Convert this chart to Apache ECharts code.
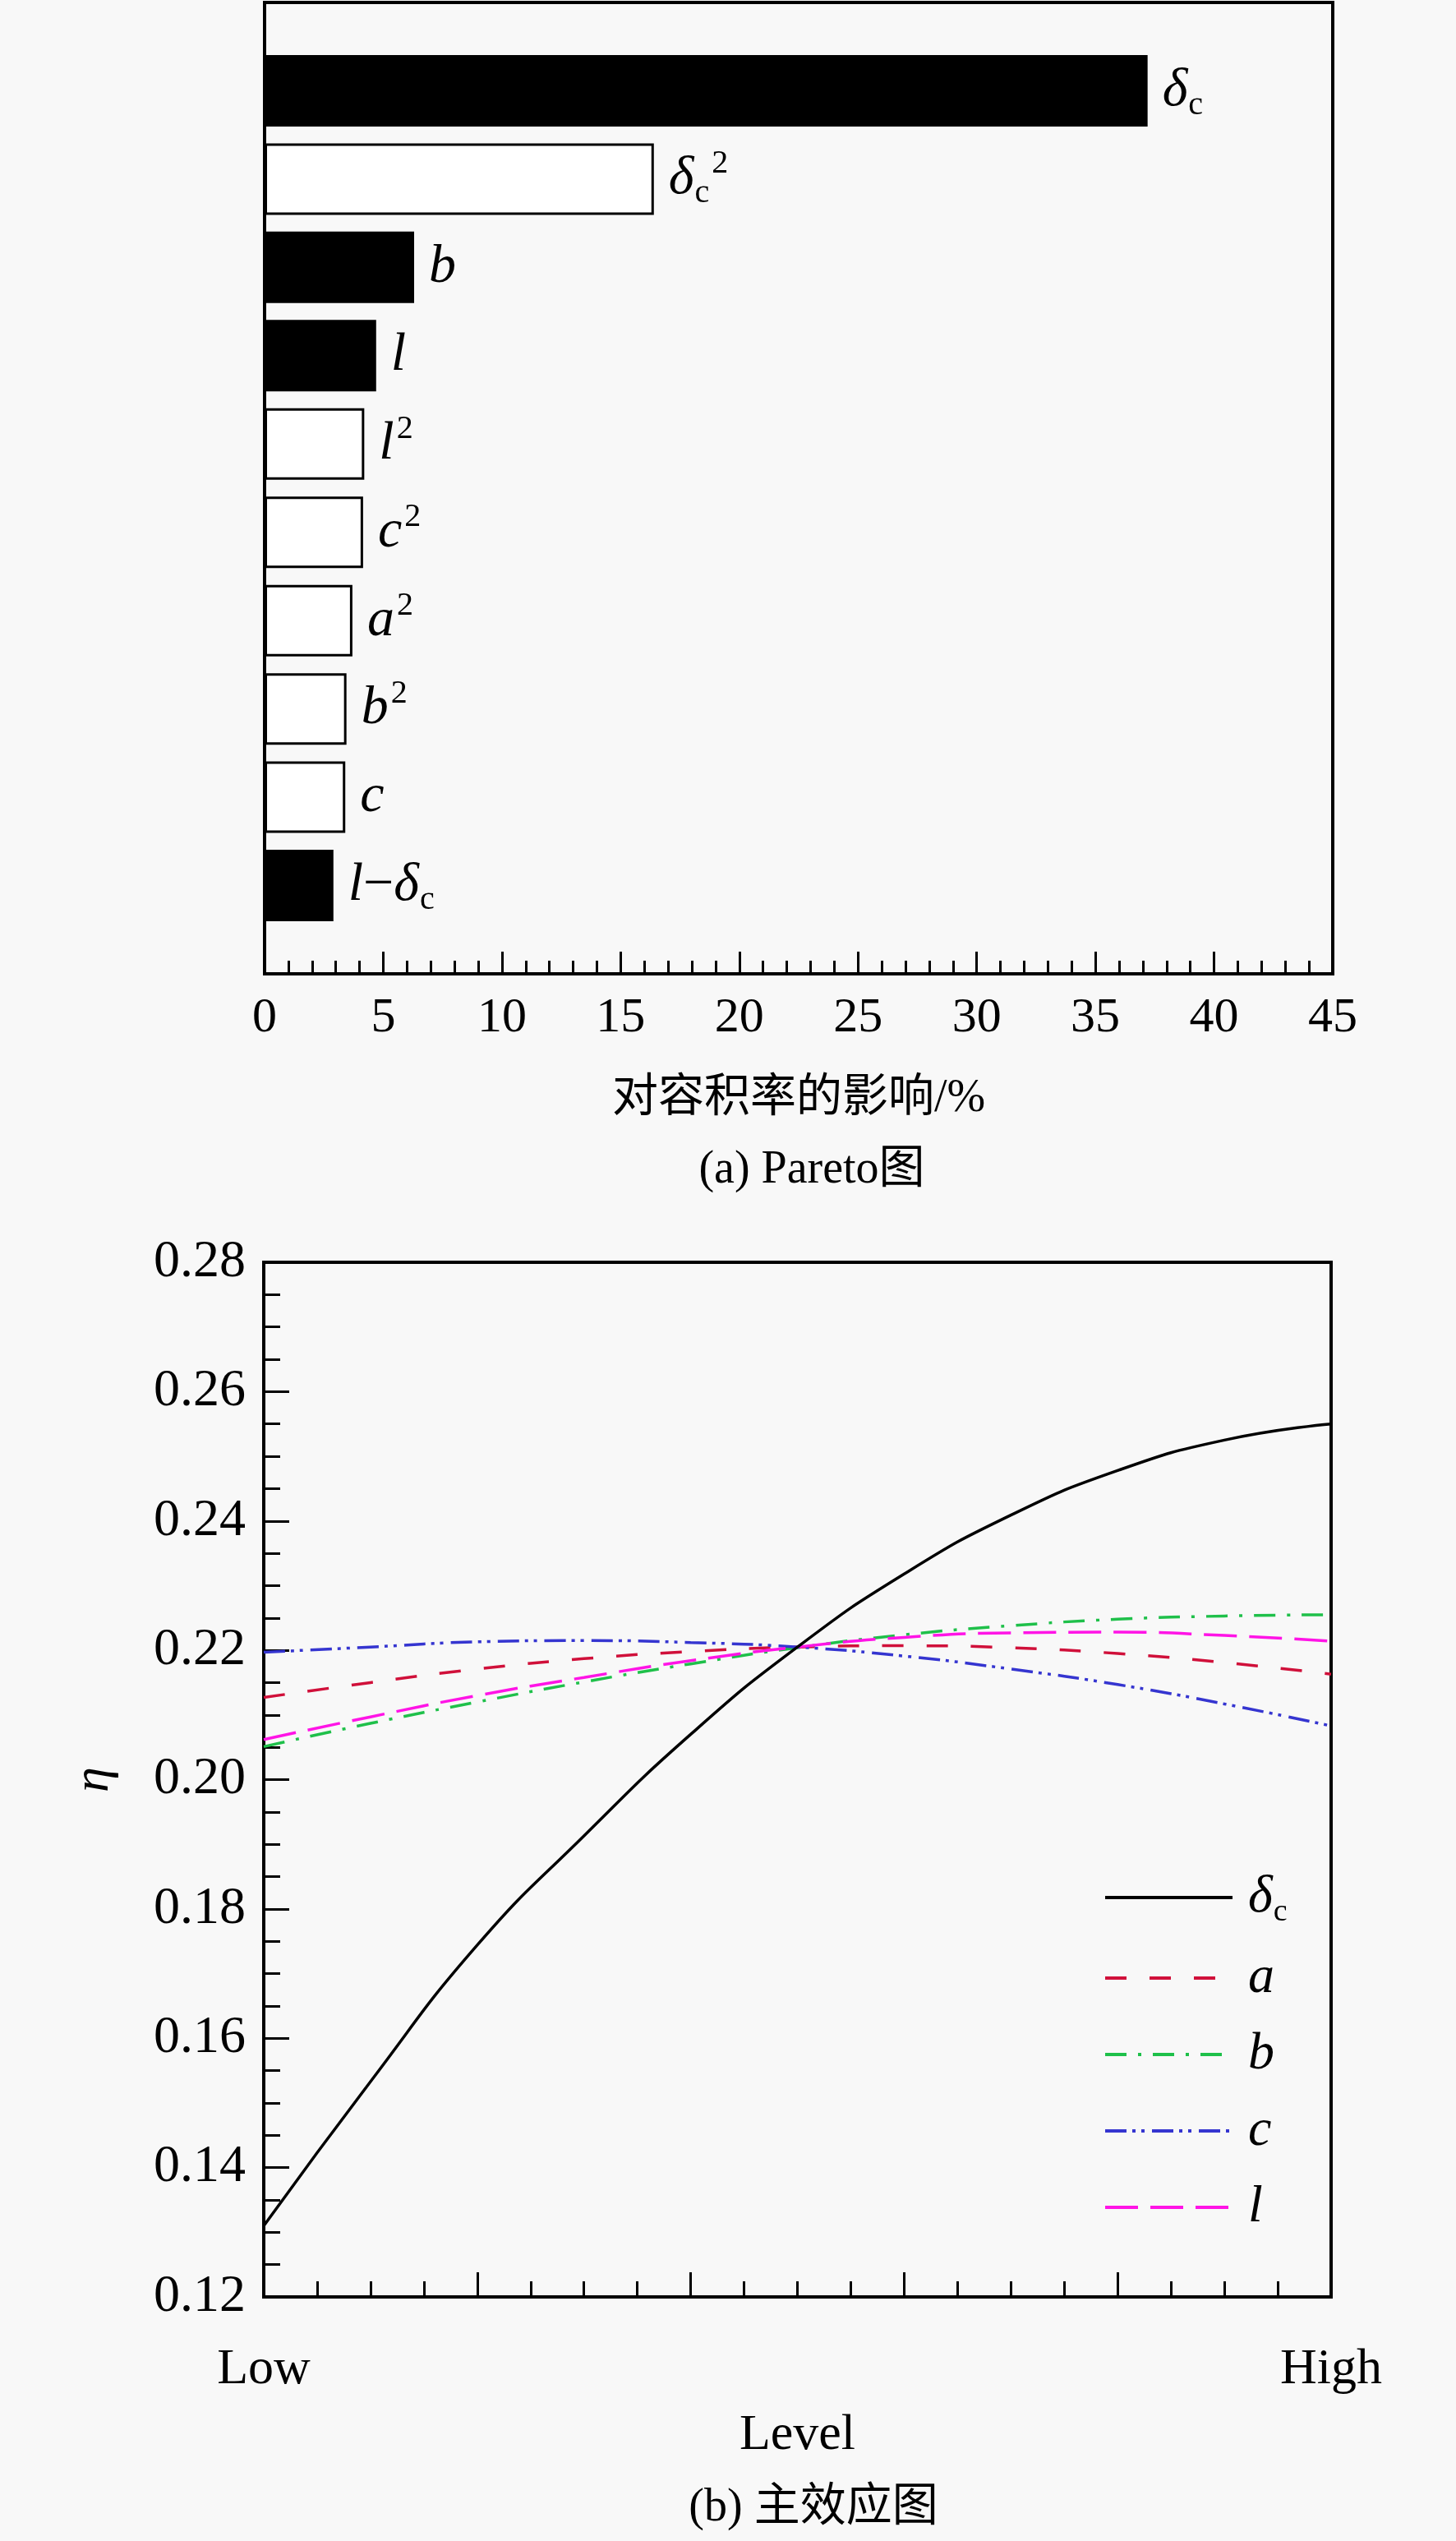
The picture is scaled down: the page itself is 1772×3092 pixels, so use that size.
<!DOCTYPE html>
<html><head><meta charset="utf-8">
<script src="https://cdn.jsdelivr.net/npm/echarts@6/dist/echarts.min.js"></script>
<style>html,body{margin:0;padding:0;background:#f8f8f8}#c{width:1772px;height:3092px}</style>
</head><body><div id="c"></div>
<script>
// ---- (a) Pareto data ----
const factors = ['δc', 'δc^2', 'b', 'l', 'l^2', 'c^2', 'a^2', 'b^2', 'c', 'l−δc'];
const effects = [37.2, 16.4, 6.3, 4.7, 4.2, 4.15, 3.7, 3.45, 3.4, 2.9];
const positive = [true, false, true, true, false, false, false, false, false, true];
const paretoTicks = [0, 5, 10, 15, 20, 25, 30, 35, 40, 45];

// ---- (b) main effects data ----
const levels = [0, 0.1, 0.2, 0.3, 0.4, 0.5, 0.6, 0.7, 0.8, 0.9, 1.0];
const levelTickLabels = ['Low', 'High'];
const etaTicks = [0.12, 0.14, 0.16, 0.18, 0.20, 0.22, 0.24, 0.26, 0.28];
const etaDc = [0.1310, 0.1533, 0.1744, 0.1913, 0.2070, 0.2205, 0.2318, 0.2409, 0.2478, 0.2525, 0.2550];
const etaA  = [0.2127, 0.2150, 0.2171, 0.2187, 0.2198, 0.2205, 0.2207, 0.2204, 0.2195, 0.2181, 0.2163];
const etaB  = [0.2051, 0.2087, 0.2120, 0.2151, 0.2179, 0.2204, 0.2224, 0.2238, 0.2248, 0.2253, 0.2255];
const etaC  = [0.2197, 0.2205, 0.2213, 0.2215, 0.2212, 0.2205, 0.2191, 0.2171, 0.2147, 0.2117, 0.2083];
const etaL  = [0.2062, 0.2097, 0.2130, 0.2158, 0.2184, 0.2205, 0.2220, 0.2227, 0.2228, 0.2223, 0.2214];
const seriesNames = ['δc', 'a', 'b', 'c', 'l'];

const SERIF = '"Liberation Serif", "Times New Roman", serif';
const CJK = '"Liberation Serif", "Noto Sans CJK SC", serif';

function toRich(name) {
  let out = '';
  for (let i = 0; i < name.length; i++) {
    const ch = name[i];
    if (ch === '^') { out += '{sup|' + name[i + 1] + '}'; i++; }
    else if (ch === 'c' && name[i - 1] === 'δ') { out += '{sub|c}'; }
    else if (ch === '−') { out += '{n|−}'; }
    else { out += '{it|' + ch + '}'; }
  }
  return out;
}
function richStyles(fs) {
  const lh = Math.round(fs * 1.15);
  const small = Math.round(fs * 0.6);
  return {
    it: { fontFamily: SERIF, fontStyle: 'italic', fontSize: fs, lineHeight: lh, color: '#000' },
    n: { fontFamily: SERIF, fontSize: fs, lineHeight: lh, color: '#000' },
    sub: { fontFamily: SERIF, fontSize: small, lineHeight: small, verticalAlign: 'bottom', color: '#000', padding: [0, 0, 0, 1] },
    sup: { fontFamily: SERIF, fontSize: small, lineHeight: small, verticalAlign: 'top', color: '#000', padding: [0, 0, 0, 3] },
    gap: { width: 14 }
  };
}

const catData = [''].concat(factors).concat(['']);
const barData = [null].concat(effects.map((v, i) => ({
  value: v,
  itemStyle: positive[i]
    ? { color: '#000', borderColor: '#000', borderWidth: 0 }
    : { color: '#fff', borderColor: '#000', borderWidth: 3 }
}))).concat([null]);

function pairs(ys) { return levels.map((x, i) => [x, ys[i]]); }

const lineDefs = [
  { data: etaDc, color: '#000000', type: 'solid', width: 3.5 },
  { data: etaA, color: '#d0103a', type: [26, 28], width: 3.5 },
  { data: etaB, color: '#1fc04a', type: [26, 14, 4, 14], width: 3.5 },
  { data: etaC, color: '#3535d0', type: [26, 7, 4, 7, 4, 9], width: 3.5 },
  { data: etaL, color: '#ff14e6', type: [40, 15], width: 3.5 }
];

const chart = echarts.init(document.getElementById('c'), null, { renderer: 'canvas' });
const axisLineStyle = { color: '#000', width: 4 };
chart.setOption({
  backgroundColor: '#f8f8f8',
  animation: false,
  grid: [
    { left: 322, right: 150, top: 3, height: 1182, show: true, borderColor: '#000', borderWidth: 4, backgroundColor: 'transparent' },
    { left: 321, right: 152, top: 1536, height: 1259, show: true, borderColor: '#000', borderWidth: 4, backgroundColor: 'transparent' }
  ],
  xAxis: [
    {
      gridIndex: 0, type: 'value', min: paretoTicks[0], max: paretoTicks[paretoTicks.length - 1], interval: paretoTicks[1] - paretoTicks[0],
      axisLine: { show: true, lineStyle: axisLineStyle },
      axisTick: { show: true, inside: true, length: 27, lineStyle: { color: '#000', width: 3 } },
      minorTick: { show: true, splitNumber: 5, length: 16, lineStyle: { color: '#000', width: 3 } },
      splitLine: { show: false },
      axisLabel: { show: true, margin: 24, fontFamily: SERIF, fontSize: 60, color: '#000',
        formatter: v => paretoTicks.indexOf(v) >= 0 ? String(v) : '' },
      name: '对容积率的影响/%', nameLocation: 'middle', nameGap: 124,
      nameTextStyle: { fontFamily: CJK, fontSize: 56, color: '#000' }
    },
    {
      gridIndex: 1, type: 'value', min: 0, max: 1, interval: 0.2,
      axisLine: { show: true, lineStyle: axisLineStyle },
      axisTick: { show: true, inside: true, length: 30, lineStyle: { color: '#000', width: 3 } },
      minorTick: { show: true, splitNumber: 4, length: 19, lineStyle: { color: '#000', width: 3 } },
      splitLine: { show: false },
      axisLabel: { show: true, margin: 58, fontFamily: SERIF, fontSize: 62, color: '#000',
        showMinLabel: true, showMaxLabel: true,
        formatter: v => v === 0 ? levelTickLabels[0] : (v === 1 ? levelTickLabels[1] : '') },
      name: 'Level', nameLocation: 'middle', nameGap: 138,
      nameTextStyle: { fontFamily: SERIF, fontSize: 62, color: '#000' }
    }
  ],
  yAxis: [
    {
      gridIndex: 0, type: 'category', data: catData, inverse: true, boundaryGap: false,
      axisLine: { show: true, lineStyle: axisLineStyle },
      axisTick: { show: false }, axisLabel: { show: false }, splitLine: { show: false }
    },
    {
      gridIndex: 1, type: 'value', min: etaTicks[0], max: etaTicks[etaTicks.length - 1], interval: 0.02,
      axisLine: { show: true, lineStyle: axisLineStyle },
      axisTick: { show: true, inside: true, length: 31, lineStyle: { color: '#000', width: 3 } },
      minorTick: { show: true, splitNumber: 4, length: 20, lineStyle: { color: '#000', width: 3 } },
      splitLine: { show: false },
      axisLabel: { show: true, margin: 22, fontFamily: SERIF, fontSize: 64, color: '#000',
        formatter: v => v.toFixed(2) },
      name: 'η', nameLocation: 'middle', nameGap: 175, nameRotate: 90,
      nameTextStyle: { fontFamily: SERIF, fontStyle: 'italic', fontSize: 62, color: '#000' }
    }
  ],
  legend: {
    orient: 'vertical', left: 1338, top: 2272,
    itemWidth: 155, itemHeight: 20, itemGap: 29,
    data: seriesNames,
    itemStyle: { opacity: 0 },
    lineStyle: { width: 4 },
    formatter: name => '{gap|}' + toRich(name),
    textStyle: { fontFamily: SERIF, fontSize: 64, color: '#000', rich: richStyles(64) }
  },
  series: [
    {
      type: 'bar', xAxisIndex: 0, yAxisIndex: 0, data: barData, barWidth: 87,
      label: {
        show: true, position: 'right', distance: 18,
        formatter: p => toRich(p.name),
        rich: richStyles(66)
      }
    }
  ].concat(lineDefs.map((d, i) => ({
    type: 'line', name: seriesNames[i], xAxisIndex: 1, yAxisIndex: 1,
    data: pairs(d.data), smooth: true, symbol: 'none', showSymbol: false,
    lineStyle: { color: d.color, type: d.type, width: d.width },
    itemStyle: { color: d.color },
    z: i === 0 ? 3 : 2
  }))),
  graphic: [
    { type: 'text', x: 988, y: 1424, style: { text: '(a) Pareto图', font: '56px ' + CJK, fill: '#000', textAlign: 'center', textVerticalAlign: 'middle' } },
    { type: 'text', x: 990, y: 3052, style: { text: '(b) 主效应图', font: '56px ' + CJK, fill: '#000', textAlign: 'center', textVerticalAlign: 'middle' } }
  ]
});
</script>
</body></html>
